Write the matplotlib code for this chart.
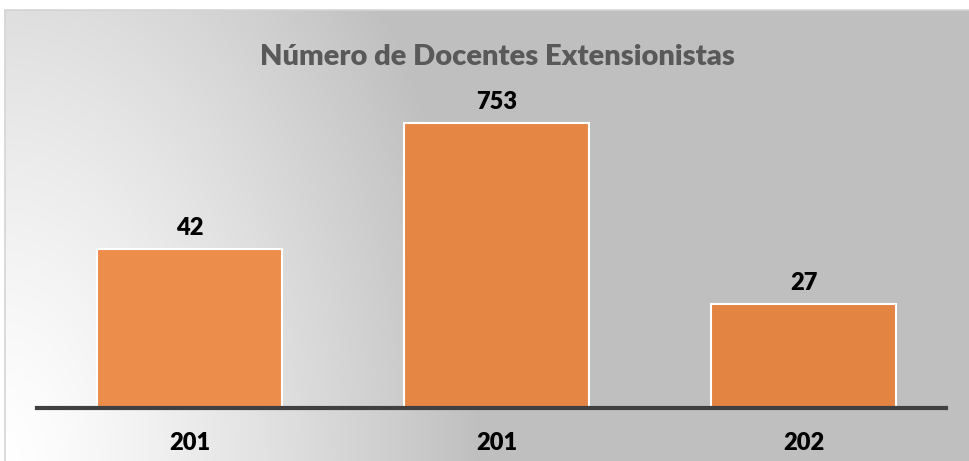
import numpy as np
import matplotlib
matplotlib.use("Agg")
import matplotlib.pyplot as plt
from matplotlib.patches import Rectangle

title = "Número de Docentes Extensionistas"
categories = ["201", "201", "202"]
values = [4200, 7530, 2750]
value_labels = ["42", "753", "27"]
bar_colors = ["#EC8D4C", "#E58645", "#E38442"]

W, H = 969, 461
fig = plt.figure(figsize=(W / 100, H / 100), dpi=100)
fig.patch.set_facecolor("white")

# background gradient panel
x0, y0 = 5, 10
bg = fig.add_axes([x0 / W, 0, 1 - x0 / W, 1 - y0 / H])
bg.set_axis_off()
nx, ny = 400, 200
xx = np.linspace(x0, W, nx)
yy = np.linspace(y0, H, ny)
X, Y = np.meshgrid(xx, yy)
d = np.sqrt(((X - 0) / 480.0) ** 2 + ((Y - H) / 760.0) ** 2)
t = np.clip(d, 0, 1) ** 1.3
lo, hi = 1.0, 0.75
g = lo + (hi - lo) * t
img = np.dstack([g, g, g])
bg.imshow(img, extent=[0, 1, 0, 1], aspect="auto", origin="upper", transform=bg.transAxes)
bg.set_xlim(0, 1)
bg.set_ylim(0, 1)
fig.add_artist(Rectangle((x0 / W, -0.01), 1.0, 1 - y0 / H + 0.01, transform=fig.transFigure,
                         fill=False, edgecolor="#d4d4d4", linewidth=1.2))

# chart axes
left, right = 37, 946
base = 408
top_px = 60
step = 307.0
ax = fig.add_axes([left / W, (H - base) / H, (right - left) / W, (base - top_px) / H])
ax.patch.set_alpha(0)
scale = 285 / 7530
ax.set_ylim(0, (base - top_px) / scale)
xl = -(189.5 - left) / step
ax.set_xlim(xl, xl + (right - left) / step)
x = np.arange(len(values))
ax.bar(x, values, width=0.605, color=bar_colors, edgecolor="white", linewidth=1.5, zorder=2)
for spine in ["top", "right", "left"]:
    ax.spines[spine].set_visible(False)
ax.spines["bottom"].set_color("#404040")
ax.spines["bottom"].set_linewidth(3)
ax.spines["bottom"].set_zorder(3)
ax.set_yticks([])
ax.set_xticks(x)
ax.set_xticklabels(categories, fontsize=17, fontweight="heavy", family="Lato", color="black")
ax.tick_params(axis="x", length=0, pad=17)

for xi, v, lab in zip(x, values, value_labels):
    ax.annotate(lab, (xi, v), xytext=(0, 7), textcoords="offset points", ha="center", va="bottom",
                fontsize=17, fontweight="heavy", family="Lato", color="black")

fig.text(497 / W, 1 - 57 / H, title, ha="center", va="center", fontsize=21,
         fontweight="heavy", family="Lato", color="#595959")

fig.savefig("out.png", dpi=100)
